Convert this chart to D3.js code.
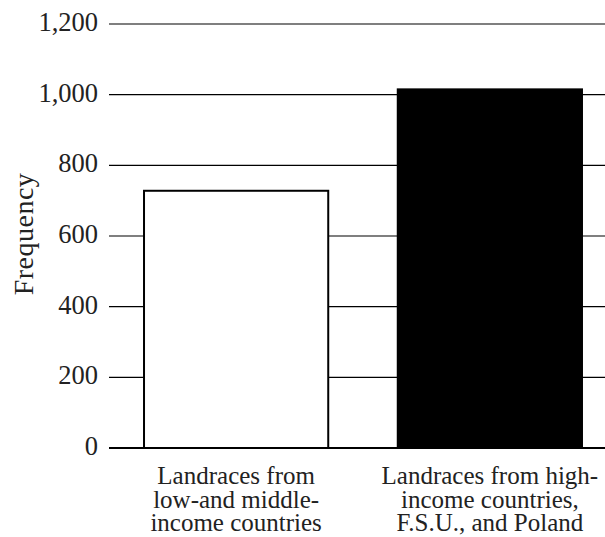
<!DOCTYPE html>
<html><head><meta charset="utf-8">
<script src="https://cdn.jsdelivr.net/npm/d3@7"></script>
<style>body{margin:0;background:#fff}svg{display:block}text{font-family:"Liberation Serif",serif;fill:#222}</style>
</head><body>
<script>
const categories = [
  ["Landraces from","low-and middle-","income countries"],
  ["Landraces from high-","income countries,","F.S.U., and Poland"]
];
const values = [728, 1015];
const fills = ["#ffffff", "#000000"];
const yTicks = [0, 200, 400, 600, 800, 1000, 1200];
const yLabel = "Frequency";

const W = 605, H = 537;
const svg = d3.select("body").append("svg").attr("width", W).attr("height", H);
const y = d3.scaleLinear().domain([0, 1200]).range([448, 24]);
const x = d3.scaleBand().domain(d3.range(values.length)).range([109, 617]).paddingInner(0.274).paddingOuter(0.138);

const g = svg.append("g");
// gridlines
g.selectAll("line.grid").data(yTicks.filter(d => d > 0)).join("line")
  .attr("x1", 109).attr("x2", W).attr("y1", d => y(d)).attr("y2", d => y(d))
  .attr("stroke", "#000").attr("stroke-width", 1.2);
// tick labels
g.selectAll("text.tick").data(yTicks).join("text")
  .attr("x", 98).attr("y", d => y(d)).attr("dy", "0.27em")
  .attr("text-anchor", "end").attr("font-size", 26.5)
  .text(d => d3.format(",")(d));
// bars
g.selectAll("rect.bar").data(values).join("rect")
  .attr("x", (d, i) => x(i)).attr("width", x.bandwidth())
  .attr("y", d => y(d)).attr("height", d => y(0) - y(d))
  .attr("fill", (d, i) => fills[i]).attr("stroke", "#000").attr("stroke-width", 2);
// baseline
g.append("line").attr("x1", 109).attr("x2", W).attr("y1", y(0)).attr("y2", y(0))
  .attr("stroke", "#000").attr("stroke-width", 2.2);
// category labels
categories.forEach((lines, i) => {
  const t = g.append("text").attr("text-anchor", "middle").attr("font-size", 25);
  lines.forEach((l, j) => t.append("tspan").attr("x", x(i) + x.bandwidth() / 2).attr("y", 484 + j * 23.5).text(l));
});
// y label
g.append("text").attr("transform", "translate(33,234) rotate(-90)")
  .attr("text-anchor", "middle").attr("font-size", 28).attr("letter-spacing", 0.5).text(yLabel);
</script>
</body></html>
